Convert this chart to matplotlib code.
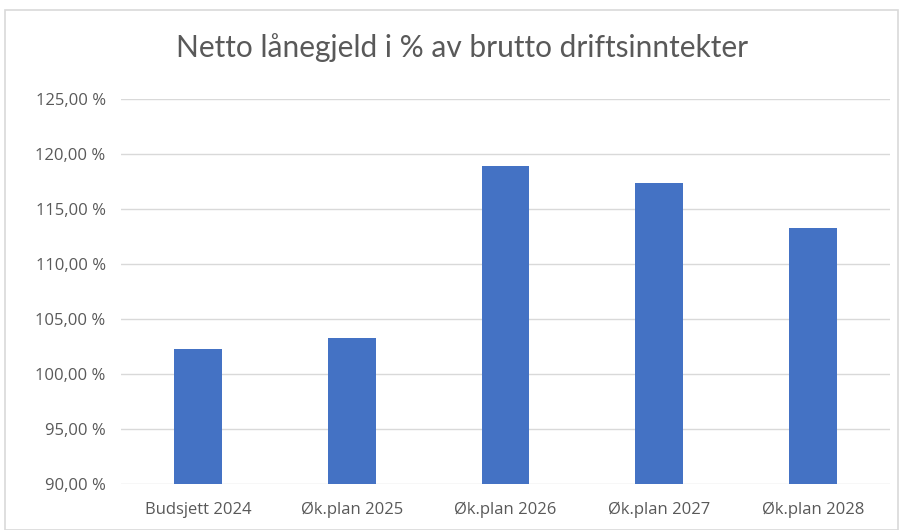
import matplotlib.pyplot as plt
from matplotlib.patches import Rectangle
from matplotlib.ticker import FuncFormatter

categories = ["Budsjett 2024", "Øk.plan 2025", "Øk.plan 2026", "Øk.plan 2027", "Øk.plan 2028"]
values = [102.3, 103.3, 118.9, 117.4, 113.3]
yticks = [90, 95, 100, 105, 110, 115, 120, 125]

plt.rcParams['font.family'] = ['Open Sans', 'DejaVu Sans']

W, H = 905, 530
fig = plt.figure(figsize=(W / 100, H / 100), dpi=100)

# chart border
fig.patches.append(Rectangle((5 / W, 0), 893 / W, (H - 10) / H, transform=fig.transFigure,
                             fill=False, edgecolor='#d9d9d9', linewidth=1.2))

ax = fig.add_axes([121 / W, (H - 484) / H, (890 - 121) / W, (484 - 99) / H])
x = range(len(categories))
ax.bar(x, values, width=0.31, color='#4472C4', bottom=0, zorder=3)

ax.set_ylim(90, 125)
ax.set_xlim(-0.5, len(categories) - 0.5)
ax.set_yticks(yticks)
ax.yaxis.set_major_formatter(FuncFormatter(lambda v, p: f"{v:.2f}".replace('.', ',') + " %"))
ax.set_xticks(list(x))
ax.set_xticklabels(categories)
ax.grid(axis='y', color='#d9d9d9', linewidth=1, zorder=0)
for s in ax.spines.values():
    s.set_visible(False)
ax.tick_params(axis='both', length=0, labelsize=12, labelcolor='#595959')
ax.tick_params(axis='y', pad=11)
ax.tick_params(axis='x', pad=13)

fig.text(462 / W, 1 - 48 / H, "Netto lånegjeld i % av brutto driftsinntekter",
         ha='center', va='center', fontsize=21.5, color='#595959',
         family=['Lato', 'DejaVu Sans'])

fig.savefig("out.png", dpi=100)
